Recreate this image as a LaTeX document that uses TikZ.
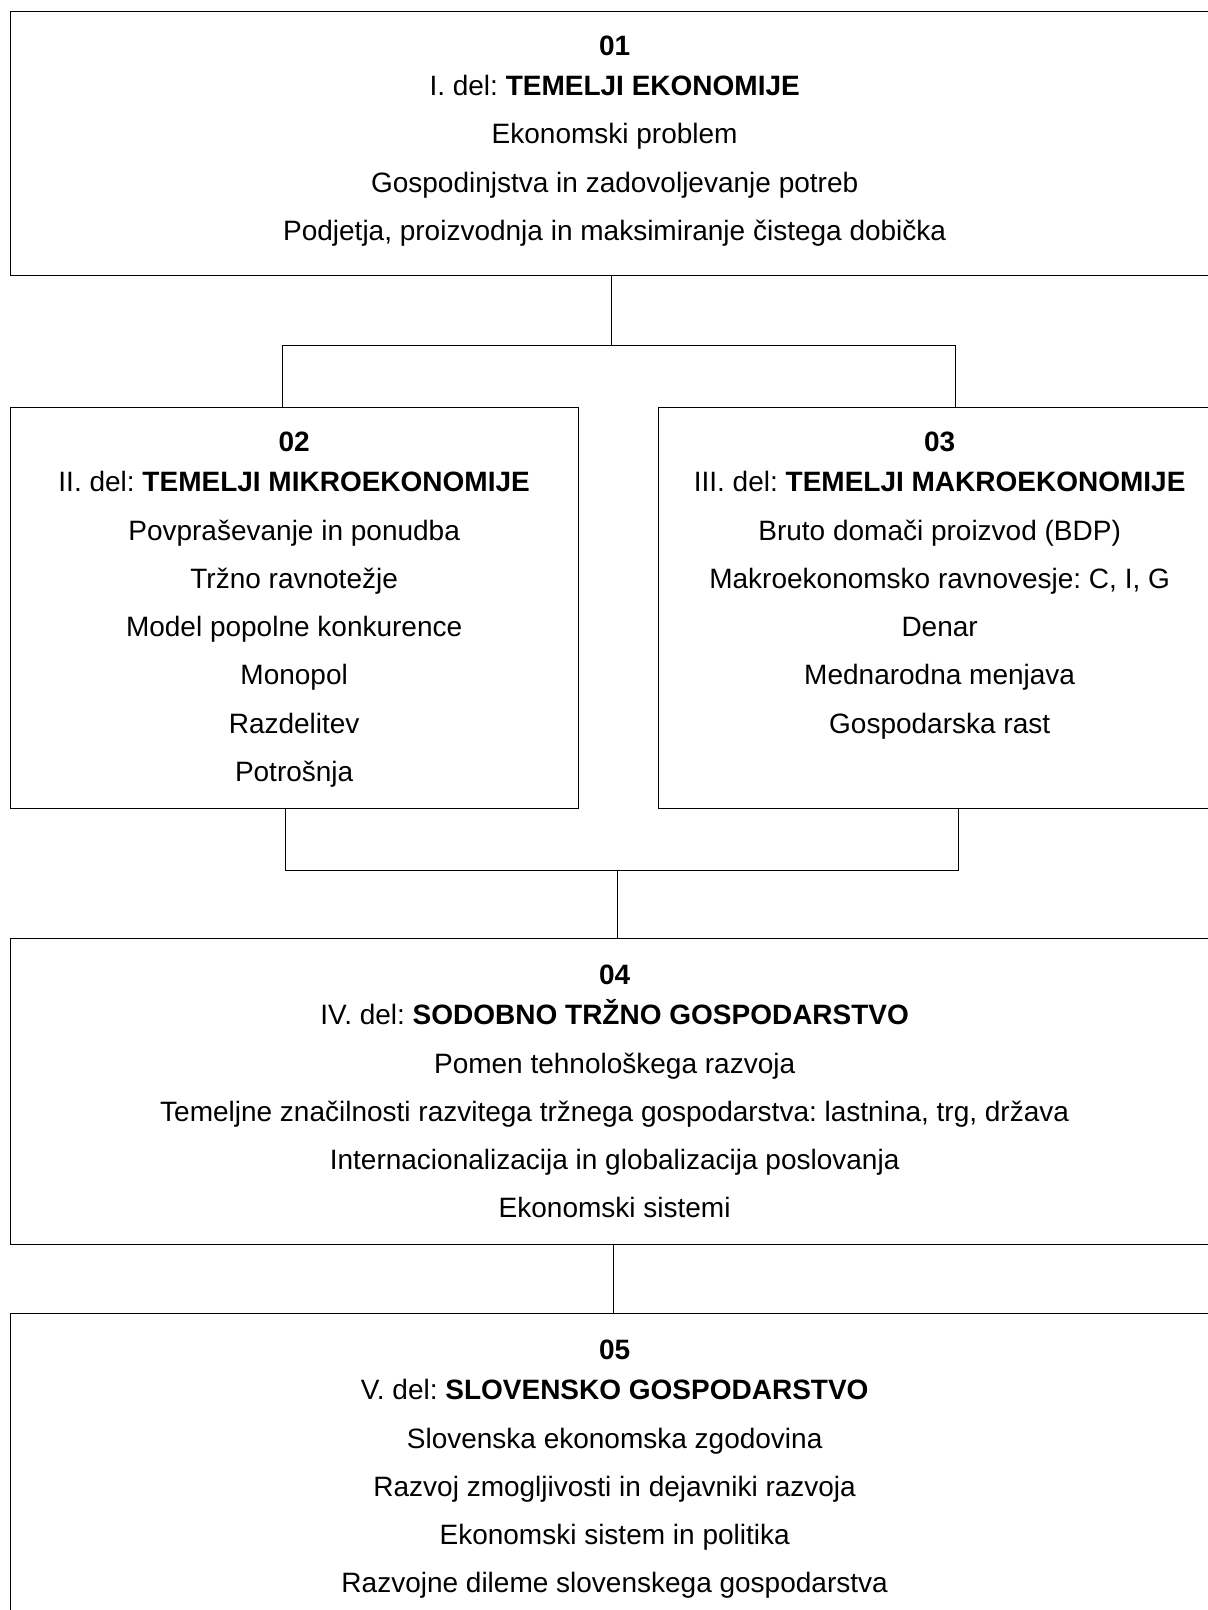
\documentclass[tikz,border=0pt]{standalone}
\usepackage{fontspec}
\setmainfont{Liberation Sans}
\usetikzlibrary{positioning}
\frenchspacing

\begin{document}
\begin{tikzpicture}[x=1pt, y=-1pt]
	\clip (0,0) rectangle (1208,1610);
	\useasboundingbox (0,0) rectangle (1208,1610);

	% empty frames, they run past the right edge of the page
	\begin{scope}[every node/.style={draw, line width=1.3pt, anchor=north west, inner sep=0pt}]
	\node [minimum width=1209pt, minimum height=264pt] (tem) at (9.5,10.7)  {};
	\node [minimum width=568pt,  minimum height=401pt] (mik) at (9.5,407)   {};
	\node [minimum width=562pt,  minimum height=401pt] (mak) at (658,407)   {};
	\node [minimum width=1209pt, minimum height=306pt] (sod) at (9.5,938)   {};
	\node [minimum width=1209pt, minimum height=308pt] (slo) at (9.5,1313)  {};
	\end{scope}

	% contents, hung from the top of each frame
	\begin{scope}[every node/.style={align=center, inner sep=0pt, font=\fontsize{28}{48.3}\selectfont}]
	\node [below=25pt of tem.north] (temT) {\textbf{01}\\[-8.3pt]
		I. del: \textbf{TEMELJI EKONOMIJE}\\
		Ekonomski problem\\
		Gospodinjstva in zadovoljevanje potreb\\
		Podjetja, proizvodnja in maksimiranje čistega dobička};
	\node [below=25pt of mik.north] (mikT) {\textbf{02}\\[-8.3pt]
		II. del: \textbf{TEMELJI MIKROEKONOMIJE}\\
		Povpraševanje in ponudba\\
		Tržno ravnotežje\\
		Model popolne konkurence\\
		Monopol\\
		Razdelitev\\
		Potrošnja};
	\node [below=25pt of mak.north] (makT) {\textbf{03}\\[-8.3pt]
		III. del: \textbf{TEMELJI MAKROEKONOMIJE}\\
		Bruto domači proizvod (BDP)\\
		Makroekonomsko ravnovesje: C, I, G\\
		Denar\\
		Mednarodna menjava\\
		Gospodarska rast};
	\node [below=27pt of sod.north] (sodT) {\textbf{04}\\[-8.3pt]
		IV. del: \textbf{SODOBNO TRŽNO GOSPODARSTVO}\\
		Pomen tehnološkega razvoja\\
		Temeljne značilnosti razvitega tržnega gospodarstva: lastnina, trg, država\\
		Internacionalizacija in globalizacija poslovanja\\
		Ekonomski sistemi};
	\node [below=27pt of slo.north] (sloT) {\textbf{05}\\[-8.3pt]
		V. del: \textbf{SLOVENSKO GOSPODARSTVO}\\
		Slovenska ekonomska zgodovina\\
		Razvoj zmogljivosti in dejavniki razvoja\\
		Ekonomski sistem in politika\\
		Razvojne dileme slovenskega gospodarstva};
	\end{scope}

	% connectors
	\begin{scope}[every path/.style={draw, line width=0.9pt}]
	\coordinate (up)  at (611.5,345);
	\coordinate (upL) at (282,345);
	\coordinate (upR) at (955,345);
	\coordinate (dnL) at (285.5,870);
	\coordinate (dnR) at (958,870);
	\coordinate (dn)  at (617,870);
	\draw (up |- tem.south) -- (up);
	\draw (upL |- mik.north) -- (upL) -- (upR) -- (upR |- mak.north);
	\draw (dnL |- mik.south) -- (dnL) -- (dnR) -- (dnR |- mak.south);
	\draw (dn) -- (dn |- sod.north);
	\draw (613,1244) coordinate (lo) (lo |- sod.south) -- (lo |- slo.north);
	\end{scope}
\end{tikzpicture}
\end{document}
